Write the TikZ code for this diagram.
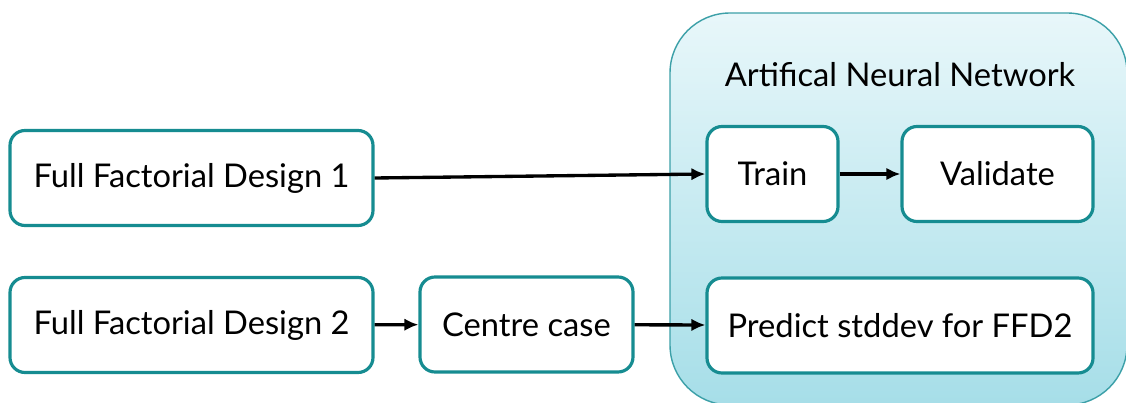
\documentclass[tikz,border=0pt]{standalone}
\usepackage{fontspec}
\setmainfont{Lato}
\usetikzlibrary{arrows.meta}
\definecolor{tealedge}{RGB}{22,140,145}
\definecolor{annedge}{RGB}{60,160,168}
\definecolor{anntop}{RGB}{232,247,250}
\definecolor{annbottom}{RGB}{166,222,232}

\begin{document}
\begin{tikzpicture}[
  stepbox/.style = {shape=rectangle, draw=tealedge, line width=1.8pt,
    rounded corners=0.3cm, fill=white, align=center,
    font=\fontsize{18.6}{22}\selectfont, minimum height=1.9cm},
  annbox/.style = {shape=rectangle, draw=annedge, line width=0.8pt,
    rounded corners=1.2cm, top color=anntop, bottom color=annbottom},
  flow/.style = {-{Latex[length=0.28cm,width=0.25cm]}, line width=1.9pt}]
  \useasboundingbox (0,0) rectangle (22.52,-8.06);
  \node[annbox, minimum width=9.14cm, minimum height=7.84cm] (ann) at (17.97,-4.18) {};
  \node[font=\fontsize{18.6}{22}\selectfont] (anntitle) at (18.0,-1.5) {Artifical Neural Network};
  \node[stepbox, minimum width=7.26cm] (ffdA) at (3.83,-3.56) {Full Factorial Design 1};
  \node[stepbox, minimum width=7.26cm] (ffdB) at (3.83,-6.5) {Full Factorial Design 2};
  \node[stepbox, minimum width=4.26cm] (centre) at (10.53,-6.49) {Centre case};
  \node[stepbox, minimum width=2.62cm] (train) at (15.45,-3.48) {Train};
  \node[stepbox, minimum width=3.82cm] (validate) at (19.95,-3.48) {Validate};
  \node[stepbox, minimum width=7.72cm] (predict) at (18.0,-6.51) {Predict stddev for FFD2};
  \draw[flow] (ffdA.east) -- (train.west);
  \draw[flow] (train) -- (validate);
  \draw[flow] (ffdB) -- (centre);
  \draw[flow] (centre) -- (predict);
\end{tikzpicture}
\end{document}
